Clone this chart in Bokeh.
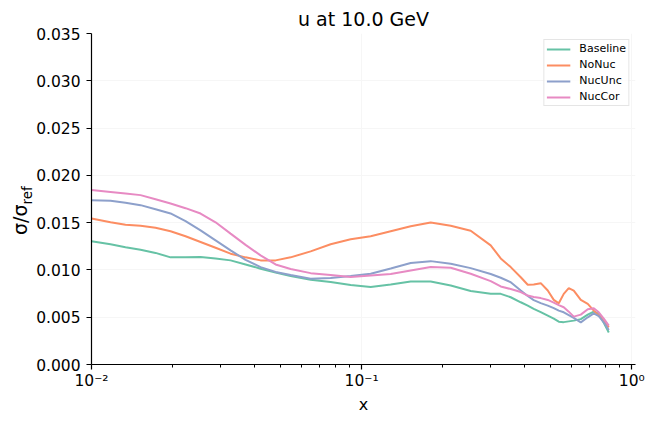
from bokeh.plotting import figure
from bokeh.layouts import row
from bokeh.models import (FixedTicker, PrintfTickFormatter, CustomJSTickFormatter, Div)
from bokeh.embed import file_html
from bokeh.resources import INLINE

# ---- data ----
x = [0.0100, 0.01176, 0.01336, 0.01519, 0.01726, 0.01962, 0.02229, 0.02533, 0.02879, 0.03272,
     0.03718, 0.04225, 0.04802, 0.05458, 0.06474, 0.07677, 0.09107, 0.1080, 0.1281, 0.1519,
     0.1801, 0.2137, 0.2533, 0.3004, 0.3272, 0.3563, 0.3881, 0.4119, 0.4335, 0.4602,
     0.4886, 0.5142, 0.5366, 0.5599, 0.5843, 0.6097, 0.6474, 0.6871, 0.7232, 0.7546,
     0.7875, 0.8219]

baseline = [0.01303, 0.01271, 0.01239, 0.01214, 0.01180, 0.01133, 0.01133, 0.01136, 0.01122, 0.01101,
            0.01058, 0.01013, 0.00973, 0.00936, 0.00897, 0.00872, 0.00841, 0.00819, 0.00846, 0.00878,
            0.00878, 0.00835, 0.00777, 0.00747, 0.00747, 0.00711, 0.00658, 0.00623, 0.00588, 0.00554,
            0.00517, 0.00485, 0.00453, 0.00448, 0.00456, 0.00464, 0.00480, 0.00527, 0.00559, 0.00538,
            0.00442, 0.00339]

nonuc = [0.01544, 0.01504, 0.01478, 0.01467, 0.01446, 0.01409, 0.01356, 0.01295, 0.01234, 0.01172,
         0.01133, 0.01101, 0.01101, 0.01133, 0.01196, 0.01271, 0.01324, 0.01356, 0.01409, 0.01462,
         0.01501, 0.01467, 0.01414, 0.01260, 0.01122, 0.01030, 0.00923, 0.00843, 0.00846, 0.00860,
         0.00782, 0.00683, 0.00647, 0.00747, 0.00807, 0.00782, 0.00683, 0.00641, 0.00570, 0.00517,
         0.00464, 0.00392]

nucunc = [0.01738, 0.01732, 0.01711, 0.01685, 0.01642, 0.01597, 0.01515, 0.01419, 0.01313, 0.01207,
          0.01106, 0.01030, 0.00979, 0.00947, 0.00906, 0.00915, 0.00936, 0.00959, 0.01016, 0.01074,
          0.01093, 0.01065, 0.01019, 0.00957, 0.00917, 0.00870, 0.00782, 0.00724, 0.00681, 0.00649,
          0.00623, 0.00596, 0.00570, 0.00552, 0.00522, 0.00492, 0.00446, 0.00499, 0.00541, 0.00511,
          0.00446, 0.00365]

nuccor = [0.01844, 0.01823, 0.01807, 0.01791, 0.01748, 0.01703, 0.01653, 0.01596, 0.01504, 0.01384,
          0.01265, 0.01154, 0.01058, 0.01010, 0.00966, 0.00947, 0.00925, 0.00941, 0.00957, 0.00995,
          0.01030, 0.01023, 0.00959, 0.00881, 0.00825, 0.00798, 0.00766, 0.00729, 0.00713, 0.00702,
          0.00683, 0.00655, 0.00628, 0.00605, 0.00559, 0.00506, 0.00527, 0.00584, 0.00594, 0.00552,
          0.00485, 0.00411]

series_names = ["Baseline", "NoNuc", "NucUnc", "NucCor"]
series_values = [baseline, nonuc, nucunc, nuccor]
colors = ["#66c2a5", "#fc8d62", "#8da0cb", "#e78ac3"]

y_ticks = [0.0, 0.005, 0.010, 0.015, 0.020, 0.025, 0.030, 0.035]
x_major_ticks = [0.01, 0.1, 1.0]
x_minor_ticks = [0.02, 0.03, 0.04, 0.05, 0.06, 0.07, 0.08, 0.09,
                 0.2, 0.3, 0.4, 0.5, 0.6, 0.7, 0.8, 0.9]

title_text = "u at 10.0 GeV"
ylabel_main = "σ/σ"
ylabel_sub = "ref"
FONT = "DejaVu Sans"

DIVW = 33
FW, FH = 544, 331
BL, BR, BT, BB = 58, 11, 33, 51
H = BT + FH + BB

p = figure(x_axis_type="log", x_range=(0.01, 1.032), y_range=(0, 0.035),
           frame_width=FW, frame_height=FH,
           min_border_left=BL, min_border_right=BR, min_border_top=BT, min_border_bottom=BB,
           output_backend="svg", toolbar_location=None)
p.outline_line_color = None
p.background_fill_color = "white"
p.border_fill_color = "white"

p.title.text = title_text
p.title.align = "center"
p.title.text_font = FONT
p.title.text_font_size = "19px"
p.title.text_font_style = "normal"
p.title.text_color = "black"
p.title.standoff = 7

for name, vals, c in zip(series_names, series_values, colors):
    p.line(x, vals, line_color=c, line_width=2, legend_label=name)

# axes
for ax in (p.xaxis[0], p.yaxis[0]):
    ax.axis_line_color = "black"
    ax.axis_line_width = 1.2
    ax.major_tick_line_color = "black"
    ax.major_tick_line_width = 1.2
    ax.major_tick_in = 0
    ax.major_tick_out = 5
    ax.major_label_text_font = FONT
    ax.major_label_text_font_size = "15.5px"
    ax.major_label_text_color = "black"

p.xaxis.major_label_standoff = 2
p.yaxis.major_label_standoff = 6

p.xaxis.ticker = FixedTicker(ticks=x_major_ticks, minor_ticks=x_minor_ticks)
p.xaxis.minor_tick_line_color = "black"
p.xaxis.minor_tick_line_width = 1
p.xaxis.minor_tick_in = 0
p.xaxis.minor_tick_out = 3
p.xaxis.formatter = CustomJSTickFormatter(code="""
    const e = Math.round(Math.log10(tick));
    const m = {"-2": "10\u207b\u00b2", "-1": "10\u207b\u00b9", "0": "10\u2070"};
    return m[String(e)] || "";
""")
p.xaxis.axis_label = "x"
p.xaxis.axis_label_text_font = FONT
p.xaxis.axis_label_text_font_size = "16px"
p.xaxis.axis_label_text_font_style = "normal"
p.xaxis.axis_label_text_color = "black"
p.xaxis.axis_label_standoff = 2

p.yaxis.ticker = FixedTicker(ticks=y_ticks)
p.yaxis.formatter = PrintfTickFormatter(format="%.3f")
p.yaxis.minor_tick_line_color = None

# faint grid
p.xgrid.ticker = FixedTicker(ticks=x_major_ticks)
p.ygrid.ticker = FixedTicker(ticks=y_ticks)
p.grid.grid_line_color = "#f6f6f6"
p.grid.grid_line_width = 1

# legend
lg = p.legend[0]
lg.location = "top_right"
lg.margin = 6
lg.padding = 2
lg.spacing = 3
lg.label_height = 12
lg.glyph_height = 12
lg.glyph_width = 24
lg.label_standoff = 9
lg.label_text_font = FONT
lg.label_text_font_size = "11px"
lg.label_text_color = "black"
lg.border_line_color = "#cccccc"
lg.border_line_width = 1
lg.background_fill_alpha = 0.8

# rotated y-axis label (sigma / sigma_ref) as real HTML text
ylabel_html = (
    f'<div style="position:relative;width:{DIVW}px;height:{H}px;">'
    f'<span style="position:absolute;left:11px;top:235px;transform-origin:0 0;'
    f'transform:rotate(-90deg);white-space:nowrap;line-height:1;'
    f'font-family:\'{FONT}\';font-size:19px;color:black;">'
    f'{ylabel_main}<sub style="font-size:13.5px;line-height:1;">{ylabel_sub}</sub></span></div>'
)
ydiv = Div(text=ylabel_html, width=DIVW, height=H, margin=0)

layout = row(ydiv, p, spacing=0)
open("out.html", "w").write(file_html(layout, INLINE))
